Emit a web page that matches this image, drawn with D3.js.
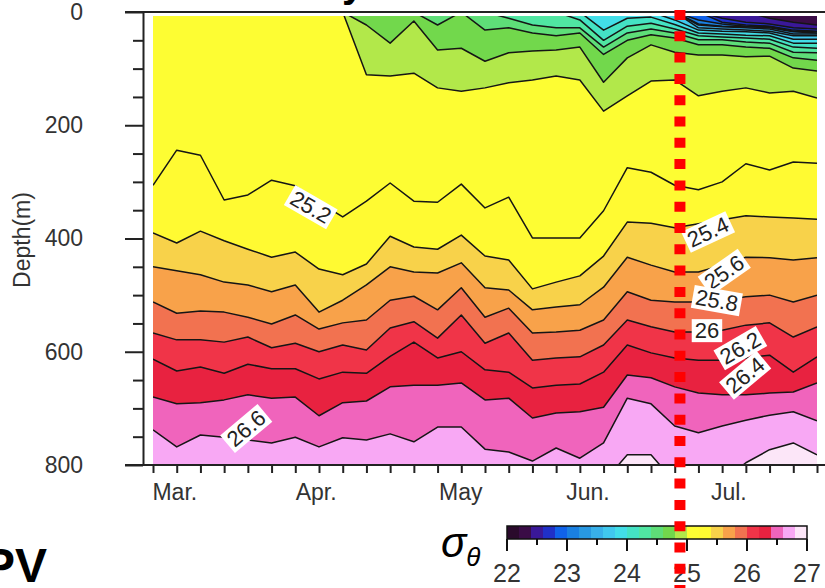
<!DOCTYPE html>
<html><head><meta charset="utf-8">
<script src="https://cdn.jsdelivr.net/npm/d3@7"></script>
<style>
body{margin:0;background:#fff;}
svg{display:block;}
text{font-family:Arial,"Liberation Sans",sans-serif;}
</style>
</head><body>
<svg id="c" width="825" height="588"></svg>
<script>
// ---------------- data ----------------
// time columns: days since 1 March (profiles every 5 days)
const days = [0,5,10,15,20,25,30,35,40,45,50,55,60,65,70,75,80,85,90,95,100,105,110,115,120,125,130,135,140];
const monthLabels = ["Mar.","Apr.","May","Jun.","Jul."];
const monthLabelDays = [4.6,34.4,64.9,91.7,121.4];
const depthTicks = [0,200,400,600,800];
const depthMinorTicks = [50,100,150,250,300,350,450,500,550,650,700,750];
const cbTicks = [22,23,24,25,26,27];
const cbMinorTicks = [22.5,23.5,24.5,25.5,26.5];
const markerDay = 111.1;
// colour of each 0.2 sigma band, 22.0 -> 27.0
const bandColors = ["#2a0a2c","#3a0c46","#3a1898","#2030c8","#1062ea","#1a80e2","#2898e2","#38b0ea","#40c8ee","#42dee8",
  "#44e2c4","#50e6a2","#5ede78","#72d84c","#b2e84a","#fdfd33","#fffa32","#f8d24a","#f8a24a","#f27250",
  "#f03448","#e82240","#f064bc","#f8a8f4","#fce6f8"];

// depth (m) of each isopycnal at each column; 0 = outcropping at surface, 830 = below 800 m
const s224 = [0,0,0,0,0,0,0,0,0,0,0,0,0,0,0,0,0,0,0,0,0,0,0,0,0,0,11,18,23];
const s226 = [0,0,0,0,0,0,0,0,0,0,0,0,0,0,0,0,0,0,0,0,0,0,0,0,11,18,21,28,30];
const s228 = [0,0,0,0,0,0,0,0,0,0,0,0,0,0,0,0,0,0,0,0,0,0,0,0,18,23,25,32,34];
const s230 = [0,0,0,0,0,0,0,0,0,0,0,0,0,0,0,0,0,0,0,0,0,0,0,14,21,25,26,34,35];
const s232 = [0,0,0,0,0,0,0,0,0,0,0,0,0,0,0,0,0,0,0,0,0,0,0,21,25,26,28,35,37];
const s234 = [0,0,0,0,0,0,0,0,0,0,0,0,0,0,0,0,0,0,0,0,0,0,0,23,26,28,30,39,39];
const s236 = [0,0,0,0,0,0,0,0,0,0,0,0,0,0,0,0,0,0,0,0,0,0,0,28,30,32,34,42,42];
const s238 = [0,0,0,0,0,0,0,0,0,0,0,0,0,0,0,0,0,0,0,0,0,0,14,32,34,35,37,48,48];
const s240 = [0,0,0,0,0,0,0,0,0,0,0,0,0,0,0,0,0,0,0,32,11,9,22,37,39,41,42,55,55];
const s242 = [0,0,0,0,0,0,0,0,0,0,0,0,0,0,0,0,0,0,14,50,25,20,30,42,44,46,48,62,64];
const s244 = [0,0,0,0,0,0,0,0,0,0,0,0,0,0,0,11,23,28,28,62,37,30,37,49,49,53,55,71,72];
const s246 = [0,0,0,0,0,0,0,0,0,0,0,0,23,0,32,28,37,42,37,75,50,40,46,58,58,62,64,81,85];
const s248 = [0,0,0,0,0,0,0,0,0,23,55,16,67,64,87,72,69,67,62,124,81,58,71,76,76,79,78,99,104];
const s250 = [0,0,0,0,0,0,0,0,0,111,113,108,134,140,134,125,120,113,120,175,148,122,120,148,140,134,143,140,152];
const s252 = [306,244,253,332,323,297,307,336,362,334,302,334,336,304,346,327,399,399,399,351,275,283,306,314,300,268,279,265,267];
const s254 = [390,408,387,404,419,433,424,454,464,445,396,415,419,394,431,438,489,477,466,431,371,373,381,374,367,360,362,364,366];
const s256 = [450,457,464,477,482,494,482,530,509,482,450,459,461,443,487,491,526,521,517,486,433,447,459,459,447,433,434,438,434];
const s258 = [512,532,528,530,539,551,535,560,549,544,509,502,526,487,539,523,567,565,562,544,494,509,512,512,509,503,500,512,500];
const s260 = [567,579,579,583,574,593,585,600,588,597,558,547,576,535,585,567,615,611,609,588,544,556,565,565,562,553,549,574,556];
const s262 = [613,634,627,638,622,630,630,648,636,638,608,583,611,600,632,636,664,659,657,636,588,602,611,615,615,611,606,636,609];
const s264 = [680,692,690,685,676,682,680,713,690,687,662,659,659,655,685,682,717,708,706,698,641,646,662,673,676,676,673,671,655];
const s266 = [738,768,747,751,756,761,751,768,752,756,745,759,733,733,772,777,793,770,788,761,682,692,731,743,731,721,712,706,722];
const s268 = [830,830,830,830,830,830,830,830,830,830,830,830,830,830,830,830,830,830,830,830,782,782,830,830,830,796,773,761,782];

const isopycnals = [
  {level:22.4,depths:s224},{level:22.6,depths:s226},{level:22.8,depths:s228},{level:23.0,depths:s230},
  {level:23.2,depths:s232},{level:23.4,depths:s234},{level:23.6,depths:s236},{level:23.8,depths:s238},
  {level:24.0,depths:s240},{level:24.2,depths:s242},{level:24.4,depths:s244},{level:24.6,depths:s246},
  {level:24.8,depths:s248},{level:25.0,depths:s250},{level:25.2,depths:s252},{level:25.4,depths:s254},
  {level:25.6,depths:s256},{level:25.8,depths:s258},{level:26.0,depths:s260},{level:26.2,depths:s262},
  {level:26.4,depths:s264},{level:26.6,depths:s266},{level:26.8,depths:s268}
];
// contour labels: text, day, depth, angle
const labelText  = ["25.2","25.4","25.6","25.8","26","26.2","26.4","26.6"];
const labelDay   = [33.3,117.0,120.4,118.9,116.8,123.8,124.8,19.6];
const labelDepth = [344,388,459,509,562,593,641,735];
const labelAngle = [30,-25,-35,10,0,-30,-40,-40];

// ---------------- drawing ----------------
const svg = d3.select("#c");
const x = d3.scaleLinear().domain([0,140]).range([153,817]);
const y = d3.scaleLinear().domain([0,800]).range([12,465]);
const bandColor = lv => bandColors[Math.round((lv-22)/0.2)];

svg.append("defs").append("clipPath").attr("id","plotclip")
  .append("rect").attr("x",x(0)).attr("y",y(7))
  .attr("width",x(140)-x(0)).attr("height",y(800)-y(7));

const g = svg.append("g").attr("clip-path","url(#plotclip)");
g.append("rect").attr("x",x(0)).attr("y",y(0)).attr("width",x(140)-x(0)).attr("height",y(800)-y(0))
  .attr("fill",bandColors[1]);

const area = d3.area().x((d,i)=>x(days[i])).y0(y(800)).y1(d=>y(d));
const line = d3.line().x((d,i)=>x(days[i])).y(d=>y(d));
isopycnals.forEach(iso=>{
  g.append("path").attr("d",area(iso.depths)).attr("fill",bandColor(iso.level));
});
isopycnals.forEach(iso=>{
  g.append("path").attr("d",line(iso.depths)).attr("fill","none")
    .attr("stroke","#151515").attr("stroke-width",1.5).attr("stroke-linejoin","round");
});

// contour labels
labelText.forEach((t,i)=>{
  const lg = svg.append("g").attr("transform",`translate(${x(labelDay[i])},${y(labelDepth[i])}) rotate(${labelAngle[i]})`);
  const txt = lg.append("text").attr("text-anchor","middle").attr("dy","0.36em")
    .attr("font-size",22).attr("fill","#222").text(t);
  const bb = txt.node().getBBox();
  lg.insert("rect","text").attr("x",bb.x-3).attr("y",bb.y+1).attr("width",bb.width+6).attr("height",bb.height-2).attr("fill","#fff");
});

// frame
const frame = svg.append("g").attr("stroke","#222").attr("stroke-width",2);
frame.append("line").attr("x1",x(0)-28).attr("x2",825).attr("y1",y(0)).attr("y2",y(0));
frame.append("line").attr("x1",x(0)-28).attr("x2",825).attr("y1",y(800)).attr("y2",y(800));

// y axis
const yAxis = svg.append("g").attr("transform",`translate(${x(0)-10},0)`)
  .call(d3.axisLeft(y).tickValues(depthTicks).tickSize(18).tickSizeOuter(0).tickPadding(42));
yAxis.selectAll("line").attr("stroke","#222").attr("stroke-width",2);
yAxis.select(".domain").attr("stroke","#222").attr("stroke-width",2);
yAxis.selectAll("text").attr("font-size",23).attr("fill","#333").attr("font-family","Arial, 'Liberation Sans', sans-serif");
const yMinor = svg.append("g").attr("transform",`translate(${x(0)-10},0)`)
  .call(d3.axisLeft(y).tickValues(depthMinorTicks).tickSize(10).tickSizeOuter(0).tickFormat(""));
yMinor.select(".domain").remove();
yMinor.selectAll("line").attr("stroke","#222").attr("stroke-width",2);

svg.append("text").attr("transform",`translate(30,240) rotate(-90)`).attr("text-anchor","middle")
  .attr("font-size",23).attr("fill","#333").text("Depth(m)");

// x axis
const xAxis = svg.append("g").attr("transform",`translate(0,${y(800)})`)
  .call(d3.axisBottom(x).tickValues(days).tickSize(8).tickSizeOuter(0).tickFormat(""));
xAxis.select(".domain").remove();
xAxis.selectAll("line").attr("stroke","#222").attr("stroke-width",2);
svg.append("g").selectAll("text").data(monthLabels).join("text")
  .attr("x",(d,i)=>x(monthLabelDays[i])).attr("y",500).attr("text-anchor","middle")
  .attr("font-size",23).attr("fill","#333").text(d=>d);

// colour bar
const cb = d3.scaleLinear().domain([22,27]).range([507,807]);
const cbg = svg.append("g");
cbg.selectAll("rect.bin").data(bandColors).join("rect").attr("class","bin")
  .attr("x",(d,i)=>cb(22+0.2*i)).attr("y",526).attr("width",cb(22.2)-cb(22)).attr("height",13)
  .attr("fill",d=>d);
cbg.append("rect").attr("x",cb(22)).attr("y",526).attr("width",cb(27)-cb(22)).attr("height",13)
  .attr("fill","none").attr("stroke","#111").attr("stroke-width",1.5);
cbg.selectAll("line.maj").data(cbTicks).join("line").attr("class","maj")
  .attr("x1",d=>cb(d)).attr("x2",d=>cb(d)).attr("y1",539).attr("y2",551).attr("stroke","#111").attr("stroke-width",2);
cbg.selectAll("line.min").data(cbMinorTicks).join("line").attr("class","min")
  .attr("x1",d=>cb(d)).attr("x2",d=>cb(d)).attr("y1",539).attr("y2",545).attr("stroke","#111").attr("stroke-width",2);
cbg.selectAll("text").data(cbTicks).join("text").attr("x",d=>cb(d)).attr("y",582)
  .attr("text-anchor","middle").attr("font-size",25).attr("fill","#333").text(d=>d);

// sigma-theta symbol
const sym = svg.append("text").attr("x",441).attr("y",557).attr("font-family","'DejaVu Serif','Liberation Serif',serif")
  .attr("font-style","italic").attr("fill","#000");
sym.append("tspan").attr("font-size",42).text("σ");
sym.append("tspan").attr("font-size",26).attr("dy",9).text("θ");

// partial texts at the edges
svg.append("text").attr("x",-17).attr("y",582).attr("font-size",48).attr("font-weight","bold").attr("fill","#000").text("PV");
svg.append("text").attr("x",342).attr("y",-3).attr("font-size",40).attr("font-weight","bold").attr("fill","#000").text("y");

// red dotted marker line
svg.append("line").attr("x1",x(markerDay)).attr("x2",x(markerDay)).attr("y1",10).attr("y2",600)
  .attr("stroke","#ff0000").attr("stroke-width",11).attr("stroke-dasharray","10,11.3");
</script>
</body></html>
